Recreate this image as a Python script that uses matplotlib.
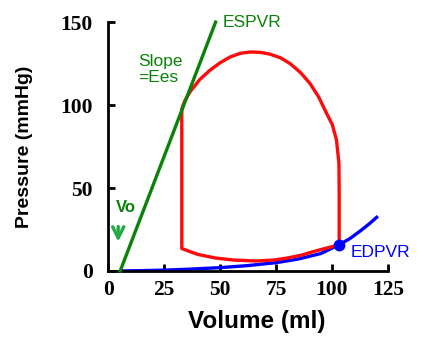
import matplotlib
matplotlib.use("Agg")
import matplotlib.pyplot as plt

# ESPVR line (volume ml, pressure mmHg)
espvr_v = [5.4, 48.0]
espvr_p = [0, 150]

# EDPVR curve
edpvr_v = [5, 15, 25, 35, 50, 62, 75, 85, 95, 103, 108, 113, 117, 120.5]
edpvr_p = [0, 0.2, 0.5, 1.0, 2.0, 3.2, 5.0, 7.2, 10.5, 15.7, 19.5, 24.5, 28.8, 33]

# PV loop (closed, clockwise from end-diastole)
loop_v = [103.2, 103.2, 103.1, 102.0, 100.2, 97.6, 94.0, 90.2, 86.0, 81.3, 77.0, 72.3,
          68.0, 63.4, 59.0, 54.5, 50.0, 45.5, 41.0, 36.6, 34.2, 32.9, 32.9, 32.9,
          40.0, 48.0, 56.0, 66.0, 74.0, 80.0, 86.0, 91.5, 97.0, 103.2]
loop_p = [15.7, 50.0, 65.0, 79.0, 88.0, 95.0, 105.0, 113.0, 119.5, 125.0, 128.5, 130.7,
          131.8, 132.0, 131.2, 129.0, 125.5, 121.0, 115.5, 108.0, 102.5, 97.6, 50.0, 13.5,
          10.0, 7.8, 6.6, 6.0, 6.6, 7.8, 9.4, 11.6, 13.6, 15.7]

ed_point = (103.2, 15.7)

xticks = [0, 25, 50, 75, 100, 125]
yticks = [0, 50, 100, 150]

fig = plt.figure(figsize=(4.24, 3.57), dpi=100)
ax = fig.add_axes([0.255, 0.241, 0.66, 0.697])
ax.set_xlim(0, 125)
ax.set_ylim(0, 150)

ax.plot(edpvr_v, edpvr_p, color="#0000ff", lw=2.4, solid_capstyle="butt", zorder=2)
ax.plot(loop_v, loop_p, color="#ff0a0a", lw=2.4, zorder=3)
ax.plot(espvr_v, espvr_p, color="#0a820a", lw=2.4, zorder=4, clip_on=False)
ax.plot([ed_point[0]], [ed_point[1]], "o", color="#0000ff", ms=7.5, zorder=5)

for s in ["top", "right"]:
    ax.spines[s].set_visible(False)
for s in ["left", "bottom"]:
    ax.spines[s].set_linewidth(2)
ax.tick_params(direction="in", width=2, length=5)
ax.set_xticks(xticks)
ax.set_yticks(yticks)
ax.set_xticklabels([str(t) for t in xticks], fontfamily="Liberation Serif",
                   fontweight="bold", fontsize=15.5)
ax.set_yticklabels([str(t) for t in yticks], fontfamily="Liberation Serif",
                   fontweight="bold", fontsize=15.5)
ax.tick_params(axis="x", pad=6.5)
ax.tick_params(axis="y", pad=11)

ax.set_xlabel("Volume (ml)", fontfamily="Liberation Sans", fontweight="bold",
              fontsize=17.5, labelpad=9)
ax.xaxis.set_label_coords(0.532, -0.155)
ax.set_ylabel("Pressure (mmHg)", fontfamily="Liberation Sans", fontweight="bold",
              fontsize=14, labelpad=20)

ax.text(51, 150, "ESPVR", color="#0a820a", fontfamily="Liberation Sans",
        fontsize=12.5, va="center", ha="left", clip_on=False)
ax.text(13.4, 121.5, "Slope\n=Ees", color="#0a820a", fontfamily="Liberation Sans",
        fontsize=12.5, va="center", ha="left", linespacing=1.05)
ax.text(3.3, 38, "Vo", color="#0a820a", fontfamily="Liberation Sans",
        fontweight="bold", fontsize=12, va="center", ha="left")
ax.annotate("", xy=(4.5, 16), xytext=(4.5, 28.5),
            arrowprops=dict(arrowstyle="->", color="#22aa44", lw=2.4,
                            mutation_scale=20))
ax.text(108.3, 11.4, "EDPVR", color="#0000ff", fontfamily="Liberation Sans",
        fontsize=12.5, va="center", ha="left", clip_on=False)

fig.savefig("out.png", dpi=100)
